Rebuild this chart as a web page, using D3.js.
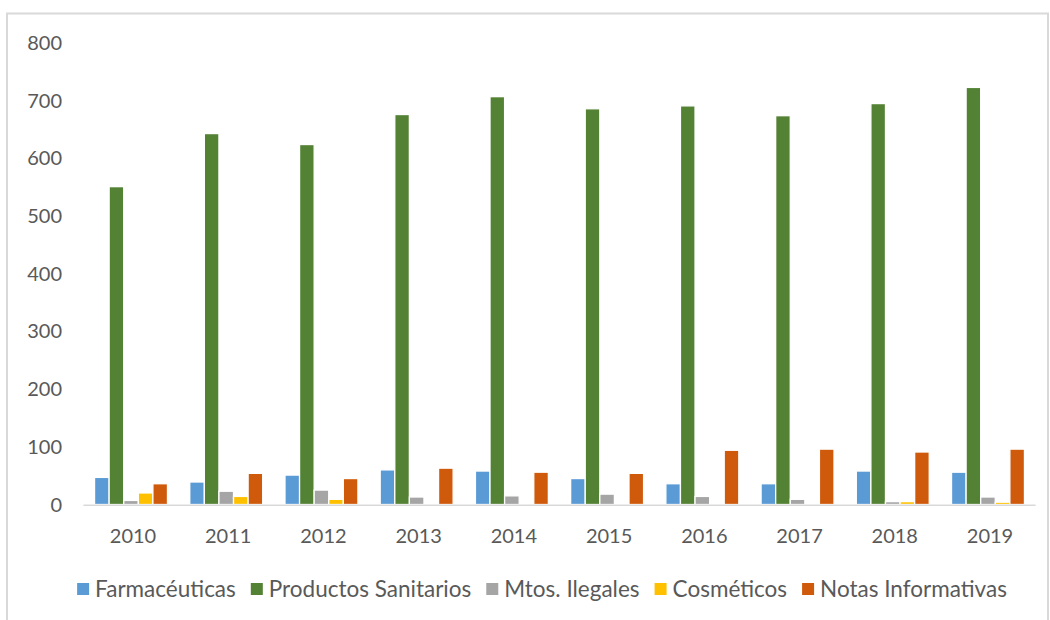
<!DOCTYPE html>
<html>
  <head>
    <meta charset="utf-8">
    <script src="https://d3js.org/d3.v7.min.js"></script>
    <style>
    body { margin: 0; background: #fff; }
    .tick-label, .legend-label {
      font-family: Lato, 'Open Sans', sans-serif;
      fill: #595959;
    }
    </style>
  </head>
  <body>
    <script>

      // data
      var years = ["2010", "2011", "2012", "2013", "2014", "2015", "2016", "2017", "2018", "2019"];
      var seriesNames = ["Farmacéuticas", "Productos Sanitarios", "Mtos. Ilegales", "Cosméticos", "Notas Informativas"];
      var farmaceuticas = [47, 39, 51, 60, 58, 45, 36, 36, 58, 56];
      var productosSanitarios = [551, 643, 624, 676, 707, 686, 691, 674, 695, 723];
      var mtosIlegales = [7, 23, 25, 13, 15, 18, 14, 9, 5, 13];
      var cosmeticos = [20, 14, 9, 0, 0, 0, 0, 0, 5, 4];
      var notasInformativas = [36, 54, 45, 63, 56, 54, 94, 96, 91, 96];
      var yTicks = [0, 100, 200, 300, 400, 500, 600, 700, 800];
      var colors = ["#5b9bd5", "#548235", "#a5a5a5", "#ffc000", "#d05a0b"];

      var seriesValues = [farmaceuticas, productosSanitarios, mtosIlegales, cosmeticos, notasInformativas];

      // setup
      var w = 1050, h = 620;
      var margin = { top: 43, left: 83.4, right: 14.4, bottom: 115.5 };
      var axisFont = 20, legendFont = 22.5;

      var svg = d3.select("body")
          .append("svg")
          .attr("width", w)
          .attr("height", h);

      // outer chart frame
      svg.append("rect")
          .attr("x", 7)
          .attr("y", 13.5)
          .attr("width", w - 9)
          .attr("height", h)
          .attr("fill", "none")
          .attr("stroke", "#d9d9d9")
          .attr("stroke-width", 2);

      var xScale = d3.scaleBand()
          .domain(years)
          .range([margin.left, w - margin.right])
          .paddingInner(0.234)
          .paddingOuter(0.117);
      var x1 = d3.scaleBand()
          .domain(seriesNames)
          .range([0, xScale.bandwidth()]);
      var yScale = d3.scaleLinear()
          .domain([0, 800])
          .range([h - margin.bottom, margin.top]);

      // bars
      seriesNames.forEach(function(name, i) {
        svg.append("g")
          .selectAll("rect")
          .data(seriesValues[i])
          .enter()
          .append("rect")
            .attr("x", function(d, j) { return xScale(years[j]) + x1(name); })
            .attr("y", function(d) { return yScale(d); })
            .attr("width", x1.bandwidth())
            .attr("height", function(d) { return yScale(0) - yScale(d); })
            .attr("fill", colors[i])
            .attr("stroke", "#fff")
            .attr("stroke-width", function(d) { return d > 0 ? 1.3 : 0; });
      });

      // baseline
      svg.append("line")
          .attr("x1", margin.left)
          .attr("x2", w - margin.right)
          .attr("y1", yScale(0) + 0.8)
          .attr("y2", yScale(0) + 0.8)
          .attr("stroke", "#d9d9d9")
          .attr("stroke-width", 1.6);

      // y axis labels
      svg.append("g")
        .selectAll("text")
        .data(yTicks)
        .enter()
        .append("text")
          .attr("class", "tick-label")
          .attr("x", 62)
          .attr("y", function(d) { return yScale(d); })
          .attr("dy", "0.35em")
          .attr("text-anchor", "end")
          .style("font-size", axisFont + "px")
          .text(function(d) { return d; });

      // x axis labels
      svg.append("g")
        .selectAll("text")
        .data(years)
        .enter()
        .append("text")
          .attr("class", "tick-label")
          .attr("x", function(d) { return xScale(d) + xScale.bandwidth() / 2 + 2; })
          .attr("y", 536)
          .attr("dy", "0.35em")
          .attr("text-anchor", "middle")
          .style("font-size", axisFont + "px")
          .text(function(d) { return d; });

      // legend, laid out from measured text widths and centred
      var legend = svg.append("g");
      var sw = 12, textGap = 6, itemGap = 15, legendY = 589;
      var cursor = 0;
      seriesNames.forEach(function(name, i) {
        var item = legend.append("g").attr("transform", "translate(" + cursor + ",0)");
        item.append("rect")
            .attr("x", 0)
            .attr("y", legendY - sw / 2)
            .attr("width", sw)
            .attr("height", sw)
            .attr("fill", colors[i]);
        var t = item.append("text")
            .attr("class", "legend-label")
            .attr("x", sw + textGap)
            .attr("y", legendY)
            .attr("dy", "0.35em")
            .style("font-size", legendFont + "px")
            .text(name);
        cursor += sw + textGap + t.node().getComputedTextLength() + itemGap;
      });
      var legendWidth = cursor - itemGap;
      legend.attr("transform", "translate(" + (542 - legendWidth / 2) + ",0)");

    </script>
  </body>
</html>
